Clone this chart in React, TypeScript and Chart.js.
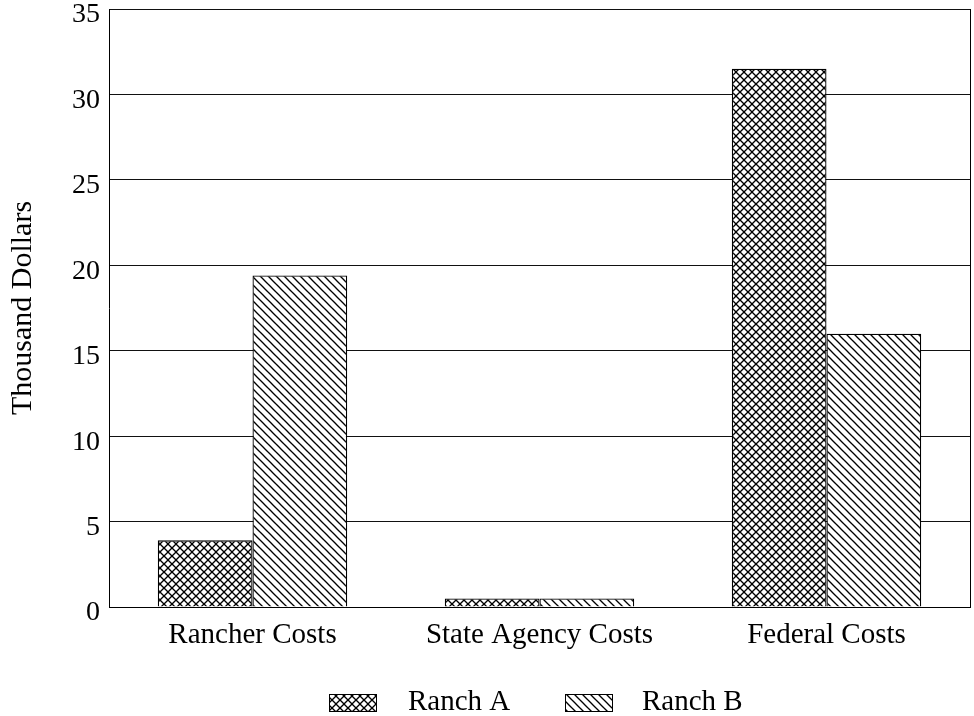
import React, { useEffect, useRef } from "react";
import { Chart, registerables } from "chart.js";

Chart.register(...registerables);

const categories = ["Rancher Costs", "State Agency Costs", "Federal Costs"];
const seriesNames = ["Ranch A", "Ranch B"];
const ranchA = [3.9, 0.5, 31.5];
const ranchB = [19.4, 0.5, 16.0];
const yTicks = [0, 5, 10, 15, 20, 25, 30, 35];

const FONT = "'Liberation Serif', 'DejaVu Serif', serif";

function makePattern(kind: "cross" | "diag"): CanvasPattern | string {
  const s = 8;
  const c = document.createElement("canvas");
  c.width = s;
  c.height = s;
  const g = c.getContext("2d");
  if (!g) return "#fff";
  g.fillStyle = "#fff";
  g.fillRect(0, 0, s, s);
  g.strokeStyle = "#000";
  g.lineWidth = 1.3;
  const seg = (x1: number, y1: number, x2: number, y2: number) => {
    g.beginPath();
    g.moveTo(x1, y1);
    g.lineTo(x2, y2);
    g.stroke();
  };
  // "\" direction
  seg(-1, -1, s + 1, s + 1);
  seg(-1, s - 1, 1, s + 1);
  seg(s - 1, -1, s + 1, 1);
  if (kind === "cross") {
    // "/" direction
    seg(-1, s + 1, s + 1, -1);
    seg(-1, 1, 1, -1);
    seg(s - 1, s + 1, s + 1, s - 1);
  }
  const p = g.createPattern(c, "repeat");
  return p || "#fff";
}

export default function App() {
  const ref = useRef<HTMLCanvasElement | null>(null);
  useEffect(() => {
    document.body.style.margin = "0";
    if (!ref.current) return;
    const pats = [makePattern("cross"), makePattern("diag")];

    const framePlugin = {
      id: "frame",
      afterDatasetsDraw(chart: any) {
        const { ctx, chartArea } = chart;
        ctx.save();
        ctx.strokeStyle = "#000";
        ctx.lineWidth = 1;
        ctx.beginPath();
        ctx.moveTo(chartArea.right + 0.5, chartArea.top);
        ctx.lineTo(chartArea.right + 0.5, chartArea.bottom);
        ctx.stroke();
        ctx.restore();
      },
      afterDraw(chart: any) {
        const { ctx } = chart;
        ctx.save();
        const items = [
          { box: 329, text: 408 },
          { box: 565, text: 642 },
        ];
        items.forEach((it, i) => {
          ctx.fillStyle = pats[i];
          ctx.fillRect(it.box, 694, 47, 17);
          ctx.strokeStyle = "#000";
          ctx.lineWidth = 1;
          ctx.strokeRect(it.box + 0.5, 694.5, 47, 17);
          ctx.fillStyle = "#000";
          ctx.font = `29px ${FONT}`;
          ctx.textBaseline = "alphabetic";
          ctx.textAlign = "left";
          ctx.fillText(seriesNames[i], it.text, 710);
        });
        ctx.restore();
      },
    };

    const chart = new Chart(ref.current, {
      type: "bar",
      data: {
        labels: categories,
        datasets: [
          {
            label: seriesNames[0],
            data: ranchA,
            backgroundColor: pats[0] as any,
            borderColor: "#000",
            borderWidth: 1.3,
            categoryPercentage: 0.66,
            barPercentage: 1.0,
          },
          {
            label: seriesNames[1],
            data: ranchB,
            backgroundColor: pats[1] as any,
            borderColor: "#000",
            borderWidth: 1.3,
            categoryPercentage: 0.66,
            barPercentage: 1.0,
          },
        ],
      },
      options: {
        animation: false,
        responsive: false,
        layout: { padding: { left: 0, right: 4, top: 9, bottom: 0 } },
        plugins: {
          legend: { display: false },
          tooltip: { enabled: false },
        },
        scales: {
          x: {
            grid: { display: false, drawTicks: false },
            border: { display: true, color: "#000", width: 1 },
            ticks: {
              color: "#000",
              font: { family: FONT, size: 29 },
              padding: 11,
            },
            afterFit: (s: any) => {
              s.height = 109;
              s.paddingLeft = 0;
              s.paddingRight = 0;
            },
          },
          y: {
            min: 0,
            max: 35,
            afterBuildTicks: (s: any) => {
              s.ticks = yTicks.map((v) => ({ value: v }));
            },
            grid: { color: "#111", lineWidth: 1, drawTicks: false },
            border: { display: true, color: "#000", width: 1 },
            ticks: {
              color: "#000",
              font: { family: FONT, size: 28 },
              padding: 9,
              labelOffset: 6,
            },
            title: {
              display: true,
              text: "Thousand Dollars",
              color: "#000",
              font: { family: FONT, size: 30 },
              padding: { top: 5, bottom: 0 },
            },
            afterFit: (s: any) => {
              s.width = 109;
              s.paddingTop = 0;
              s.paddingBottom = 0;
            },
          },
        },
      },
      plugins: [framePlugin],
    });
    return () => chart.destroy();
  }, []);
  return (
    <div style={{ width: 974, height: 716, background: "#fff" }}>
      <canvas ref={ref} width={974} height={716} style={{ display: "block" }} />
    </div>
  );
}
